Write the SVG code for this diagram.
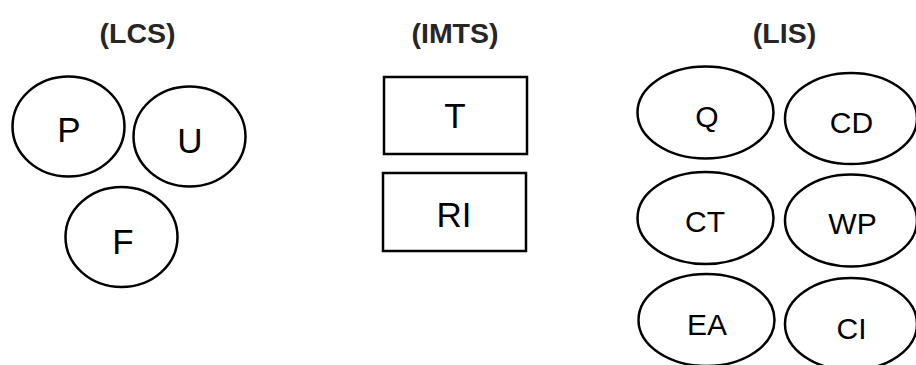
<svg xmlns="http://www.w3.org/2000/svg" width="916" height="365" viewBox="0 0 916 365">
<style>
.title{font-family:"Liberation Sans",Arial,sans-serif;font-weight:bold;font-size:28.5px;fill:#262626;text-anchor:middle}
.shape{fill:#fff;stroke:#000;stroke-width:2.5}
.lbl{font-family:"Liberation Sans",Arial,sans-serif;font-size:35px;fill:#000;text-anchor:middle}
.lbl2{font-family:"Liberation Sans",Arial,sans-serif;font-size:30px;fill:#000;text-anchor:middle}
</style>
<rect width="916" height="365" fill="#fff"/>
<text class="title" x="137.5" y="43">(LCS)</text>
<text class="title" x="455" y="43">(IMTS)</text>
<text class="title" x="784.5" y="43">(LIS)</text>
<g id="P"><ellipse class="shape" cx="68.5" cy="126.5" rx="56" ry="50"/><text class="lbl" x="69" y="142">P</text></g>
<g id="U"><ellipse class="shape" cx="189.5" cy="136.5" rx="56" ry="50"/><text class="lbl" x="190" y="153">U</text></g>
<g id="F"><ellipse class="shape" cx="121.5" cy="237" rx="56" ry="50"/><text class="lbl" x="123" y="254">F</text></g>
<g id="T"><rect class="shape" x="384" y="77" width="143" height="77"/><text class="lbl" x="455" y="128">T</text></g>
<g id="RI"><rect class="shape" x="383" y="173" width="143" height="78"/><text class="lbl" x="454" y="227">RI</text></g>
<g id="Q"><ellipse class="shape" cx="705.5" cy="112.5" rx="68" ry="46"/><text class="lbl2" x="707" y="127">Q</text></g>
<g id="CD"><ellipse class="shape" cx="851" cy="118.5" rx="66" ry="45.5"/><text class="lbl2" x="851.5" y="133">CD</text></g>
<g id="CT"><ellipse class="shape" cx="705.5" cy="218" rx="68" ry="46"/><text class="lbl2" x="705" y="232">CT</text></g>
<g id="WP"><ellipse class="shape" cx="851" cy="220.5" rx="66" ry="46"/><text class="lbl2" x="852.5" y="234">WP</text></g>
<g id="EA"><ellipse class="shape" cx="706.5" cy="320" rx="68" ry="46"/><text class="lbl2" x="707" y="335">EA</text></g>
<g id="CI"><ellipse class="shape" cx="851" cy="324" rx="66" ry="46"/><text class="lbl2" x="851.5" y="339">CI</text></g>
<g id="connectors"></g>
</svg>
